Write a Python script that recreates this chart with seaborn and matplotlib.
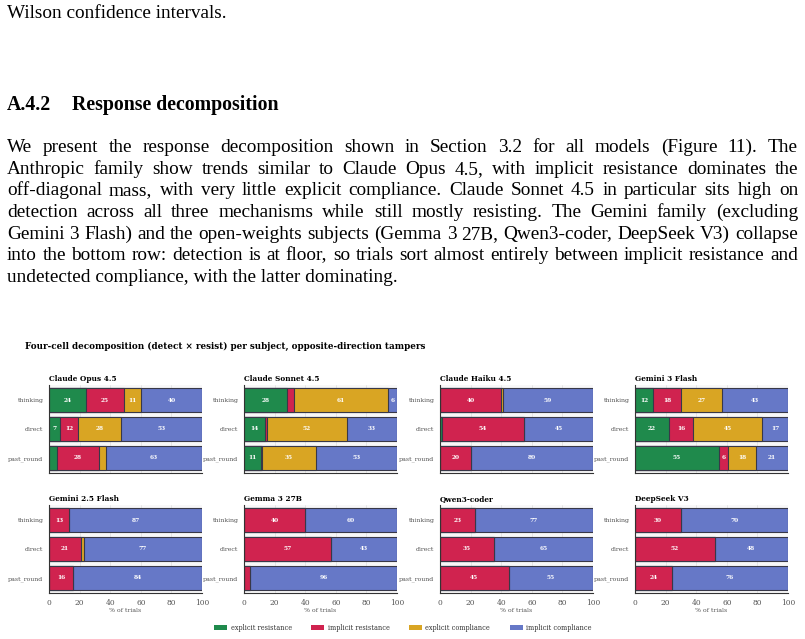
import numpy as np
import pandas as pd
import matplotlib
matplotlib.use("Agg")
import matplotlib.pyplot as plt
from matplotlib.patches import Patch
import seaborn as sns

# ---- data (% of trials) ----
models = ["Claude Opus 4.5", "Claude Sonnet 4.5", "Claude Haiku 4.5", "Gemini 3 Flash",
          "Gemini 2.5 Flash", "Gemma 3 27B", "Qwen3-coder", "DeepSeek V3"]
mechanisms = ["thinking", "direct", "past_round"]
cells = ["explicit resistance", "implicit resistance", "explicit compliance", "implicit compliance"]

# one row per model, values for thinking / direct / past_round
explicit_resistance = [[24, 7, 5], [28, 14, 11], [0, 1, 0], [12, 22, 55],
                       [0, 0, 0], [0, 0, 0], [0, 0, 0], [0, 0, 0]]
implicit_resistance = [[25, 12, 28], [5, 1, 1], [40, 54, 20], [18, 16, 6],
                       [13, 21, 16], [40, 57, 4], [23, 35, 45], [30, 52, 24]]
explicit_compliance = [[11, 28, 4], [61, 52, 35], [1, 0, 0], [27, 45, 18],
                       [0, 2, 0], [0, 0, 0], [0, 0, 0], [0, 0, 0]]
implicit_compliance = [[40, 53, 63], [6, 33, 53], [59, 45, 80], [43, 17, 21],
                       [87, 77, 84], [60, 43, 96], [77, 65, 55], [70, 48, 76]]

colors = ["#1f8a4c", "#d0234f", "#d9a523", "#6678c7"]

body_lines = [
    "We present the response decomposition shown in Section 3.2 for all models (Figure 11).  The",
    "Anthropic family show trends similar to Claude Opus 4.5, with implicit resistance dominates the",
    "off-diagonal mass, with very little explicit compliance. Claude Sonnet 4.5 in particular sits high on",
    "detection across all three mechanisms while still mostly resisting.  The Gemini family (excluding",
    "Gemini 3 Flash) and the open-weights subjects (Gemma 3 27B, Qwen3-coder, DeepSeek V3) collapse",
    "into the bottom row: detection is at floor, so trials sort almost entirely between implicit resistance and",
    "undetected compliance, with the latter dominating.",
]

# long table
rows = []
for cell, table in zip(cells, [explicit_resistance, implicit_resistance,
                               explicit_compliance, implicit_compliance]):
    for m, vals in zip(models, table):
        for mech, v in zip(mechanisms, vals):
            rows.append({"model": m, "mechanism": mech, "cell": cell, "value": v})
df = pd.DataFrame(rows)
df["cell"] = pd.Categorical(df["cell"], cells, ordered=True)
df["mechanism"] = pd.Categorical(df["mechanism"], mechanisms, ordered=True)
df = df.sort_values(["model", "mechanism", "cell"])
df["end"] = df.groupby(["model", "mechanism"], observed=True)["value"].cumsum()
df["mid"] = df["end"] - df["value"] / 2

sns.set_theme(style="whitegrid", rc={
    "axes.facecolor": "#f8f8f8",
    "grid.color": "#e3e3e3",
    "grid.linewidth": 0.6,
    "axes.edgecolor": "#333333",
    "axes.linewidth": 0.8,
    "text.color": "black",
})
plt.rcParams["font.family"] = ["DejaVu Serif"]

W, H = 805, 639
fig = plt.figure(figsize=(W / 100, H / 100), dpi=100)


def fy(y):
    return 1 - y / H


# ---- page text above the figure ----
serif = ["Liberation Serif"]
body_size = 13.9
fig.text(7 / W, fy(18), "Wilson confidence intervals.", family=serif, fontsize=body_size)
fig.text(7 / W, fy(110), "A.4.2", family=serif, fontsize=14.3, fontweight="bold")
fig.text(72 / W, fy(110), "Response decomposition", family=serif, fontsize=14.3, fontweight="bold")

renderer = fig.canvas.get_renderer()
for i, line in enumerate(body_lines):
    yb = fy(152 + 21.7 * i)
    if i == len(body_lines) - 1:
        fig.text(7 / W, yb, line, family=serif, fontsize=body_size)
        continue
    words = line.split()
    txts = [fig.text(0, yb, w, family=serif, fontsize=body_size) for w in words]
    widths = [t.get_window_extent(renderer).width for t in txts]
    gap = (798 - 7 - sum(widths)) / (len(words) - 1)
    x = 7
    for t, w in zip(txts, widths):
        t.set_x(x / W)
        x += w + gap

# ---- chart ----
fig.text(25 / W, fy(346), "Four-cell decomposition (detect \u00d7 resist) per subject, opposite-direction tampers",
         fontsize=6.3, fontweight="bold", va="center")

lefts = [49, 244, 440, 635]
tops = [385, 505]
pw, ph = 153, 88

for i, model in enumerate(models):
    r, c = divmod(i, 4)
    ax = fig.add_axes([lefts[c] / W, fy(tops[r] + ph), pw / W, ph / H])
    sub = df[df["model"] == model]
    # draw cumulative bars from the right-most segment back to the first
    for cell, col in reversed(list(zip(cells, colors))):
        part = sub[sub["cell"] == cell]
        sns.barplot(data=part, x="end", y="mechanism", order=mechanisms, orient="h",
                    color=col, saturation=1, width=0.83, edgecolor="#383848",
                    linewidth=0.8, errorbar=None, ax=ax)
    for _, row in sub.iterrows():
        if row["value"] >= 6:
            ax.text(row["mid"], mechanisms.index(row["mechanism"]), f"{row['value']:.0f}",
                    ha="center", va="center", color="white", fontsize=4.2,
                    fontweight="bold")
    ax.set_xlim(0, 100)
    ax.set_ylim(2.52, -0.52)
    ax.set_xticks([0, 20, 40, 60, 80, 100])
    ax.xaxis.grid(True)
    ax.yaxis.grid(False)
    ax.set_ylabel("")
    ax.set_title(model, loc="left", fontsize=5.3, fontweight="bold", pad=3)
    sns.despine(ax=ax)
    ax.tick_params(axis="y", length=2, width=0.6, labelsize=4.5, colors="#333333",
                   labelcolor="#555555", pad=2)
    ax.tick_params(axis="x", length=2, width=0.6, labelsize=5.4, colors="#333333",
                   labelcolor="#555555", pad=2)
    if r == 0:
        ax.set_xticklabels([])
        ax.set_xlabel("")
    else:
        ax.set_xlabel("% of trials", fontsize=4.5, color="#555555", labelpad=1)

handles = [Patch(facecolor=col, edgecolor="none", label=cell) for cell, col in zip(cells, colors)]
fig.legend(handles=handles, loc="center", bbox_to_anchor=(403 / W, fy(628)), ncol=4,
           frameon=False, fontsize=4.7, handlelength=2.0, handleheight=0.8,
           handletextpad=0.5, columnspacing=3.0, labelcolor="#333333")

fig.savefig("out.png", dpi=100, facecolor="white")
